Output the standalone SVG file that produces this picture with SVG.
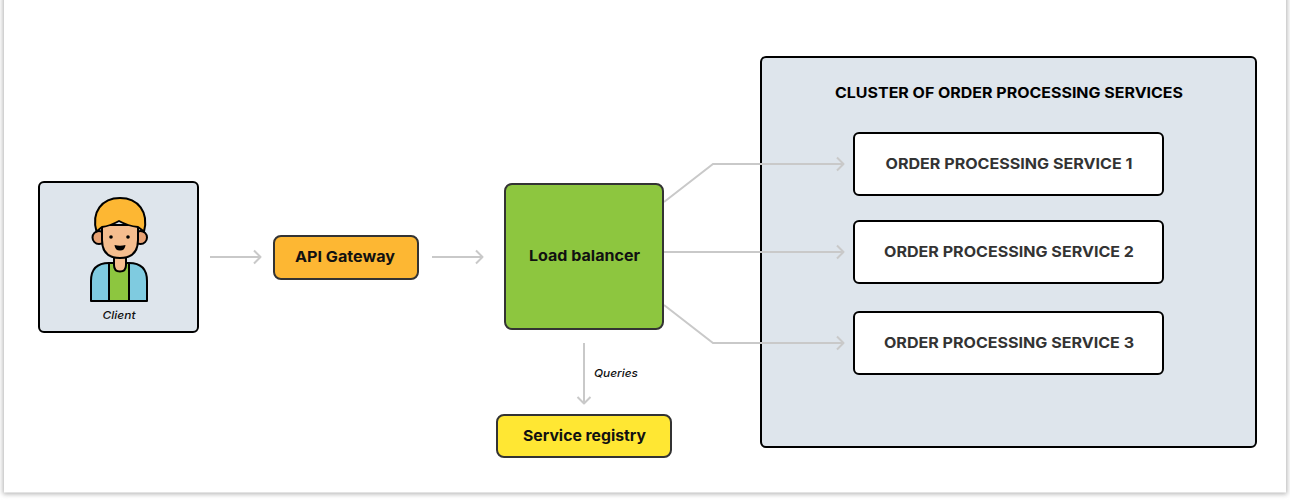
<svg xmlns="http://www.w3.org/2000/svg" width="1290" height="501" viewBox="0 0 1290 501">
<defs>
<filter id="sh" x="-2%" y="-5%" width="104%" height="110%"><feGaussianBlur stdDeviation="2.5"/></filter>
<marker id="ah" markerUnits="userSpaceOnUse" markerWidth="14" markerHeight="16" refX="12" refY="8" orient="auto"><path d="M5 1.500L11.500 8L5 14.500" fill="none" stroke="#c9c9c9" stroke-width="2" stroke-linejoin="round"/></marker>
</defs>
<style>
.t{font-family:"Inter","Liberation Sans",sans-serif;font-weight:700;text-anchor:middle}
.b{fill:#111;font-size:15px}
.s{fill:#333;font-size:14.5px}
.i{font-family:"Inter","Liberation Sans",sans-serif;font-style:italic;font-weight:500;font-size:11px;fill:#111;text-anchor:middle}
.c{fill:none;stroke:#c9c9c9;stroke-width:2;marker-end:url(#ah)}
.k{stroke:#000;stroke-width:2;stroke-linejoin:round}
</style>
<rect width="1290" height="501" fill="#ffffff"/>
<rect x="3" y="-5" width="1284" height="499" fill="#b0b0b0" filter="url(#sh)"/>
<rect x="4" y="-5" width="1282" height="497.500" fill="#ffffff"/>
<g id="cluster">
<rect x="761" y="57" width="495" height="390" rx="5" fill="#dee5ec" stroke="#000" stroke-width="2"/>
<text class="t" x="1009" y="98" font-size="14.5" fill="#000" textLength="348" lengthAdjust="spacingAndGlyphs">CLUSTER OF ORDER PROCESSING SERVICES</text>
</g>
<g id="connectors">
<path class="c" d="M210 257H261"/>
<path class="c" d="M432 257H483"/>
<path class="c" d="M664 202L713 164H844"/>
<path class="c" d="M664 252H844"/>
<path class="c" d="M664 305L713 343H844"/>
<path class="c" d="M584 343V404"/>
<text class="i" x="616" y="377" textLength="44" lengthAdjust="spacingAndGlyphs">Queries</text>
</g>
<g id="client">
<rect x="39" y="182" width="159" height="150" rx="5" fill="#dee5ec" stroke="#000" stroke-width="2"/>
<path class="k" d="M91 301V281Q91 263 109 263H129Q147 263 147 281V301Z" fill="#7fcbe0"/>
<path class="k" d="M109 263H129V301H109Z" fill="#8dc63f"/>
<path class="k" d="M114 255H126V265Q126 271.500 120 271.500Q114 271.500 114 265Z" fill="#f5bd8e"/>
<circle class="k" cx="99" cy="237.500" r="6.500" fill="#e8a274"/>
<circle class="k" cx="140.500" cy="237.500" r="6.500" fill="#e8a274"/>
<path class="k" d="M102 225H138V240Q138 258 120 258Q102 258 102 240Z" fill="#f5bd8e"/>
<path class="k" d="M96.500 231.500C91 212 102 198 120 198C138 198 149 212 144 231.500L138 227Q128 226 119 221Q110 226 102 227Z" fill="#fdb733"/>
<circle cx="111" cy="237" r="1.800" fill="#000"/>
<circle cx="128" cy="237" r="1.800" fill="#000"/>
<path d="M114.500 245Q120 246.500 125.500 245Q125 250.500 120 250.500Q115 250.500 114.500 245Z" fill="#000"/>
<text class="i" x="119" y="319" textLength="33" lengthAdjust="spacingAndGlyphs">Client</text>
</g>
<g id="api-gateway">
<rect x="274" y="236" width="144" height="43" rx="7" fill="#fdb733" stroke="#333" stroke-width="2"/>
<text class="t b" x="345" y="262" textLength="100" lengthAdjust="spacingAndGlyphs">API Gateway</text>
</g>
<g id="load-balancer">
<rect x="505" y="184" width="158" height="145" rx="7" fill="#8dc63f" stroke="#333" stroke-width="2"/>
<text class="t b" x="584.500" y="261" textLength="111" lengthAdjust="spacingAndGlyphs">Load balancer</text>
</g>
<g id="service-registry">
<rect x="497" y="415" width="174" height="42" rx="7" fill="#ffe733" stroke="#333" stroke-width="2"/>
<text class="t b" x="584.500" y="441" textLength="123" lengthAdjust="spacingAndGlyphs">Service registry</text>
</g>
<g id="service-1">
<rect x="854" y="133" width="309" height="62" rx="5" fill="#fff" stroke="#000" stroke-width="2"/>
<text class="t s" x="1009" y="169" textLength="247" lengthAdjust="spacingAndGlyphs">ORDER PROCESSING SERVICE 1</text>
</g>
<g id="service-2">
<rect x="854" y="221" width="309" height="62" rx="5" fill="#fff" stroke="#000" stroke-width="2"/>
<text class="t s" x="1009" y="257" textLength="250" lengthAdjust="spacingAndGlyphs">ORDER PROCESSING SERVICE 2</text>
</g>
<g id="service-3">
<rect x="854" y="312" width="309" height="62" rx="5" fill="#fff" stroke="#000" stroke-width="2"/>
<text class="t s" x="1009" y="348" textLength="250" lengthAdjust="spacingAndGlyphs">ORDER PROCESSING SERVICE 3</text>
</g>
</svg>
